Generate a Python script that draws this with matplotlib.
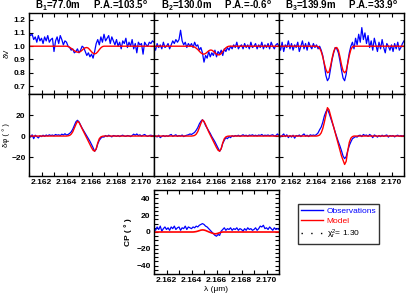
import numpy as np
import matplotlib
matplotlib.use("Agg")
import matplotlib.pyplot as plt
from matplotlib.lines import Line2D
from matplotlib.ticker import MultipleLocator, FixedLocator, FormatStrFormatter

plt.rcParams['font.family'] = ['Liberation Sans', 'DejaVu Sans']
plt.rcParams['mathtext.default'] = 'regular'

# ---------------- data ----------------
wavelength = np.linspace(2.161, 2.171, 81)          # observation grid (micron)
model_wl = np.concatenate(([2.161], np.linspace(2.164, 2.167, 25), [2.171]))

titles = [r"B$_1$=77.0m     P.A.=103.5$^o$",
          r"B$_2$=130.0m     P.A.=-0.6$^o$",
          r"B$_3$=139.9m     P.A.=33.9$^o$"]

dv_obs_1 = [1.10, 1.08, 1.09, 1.05, 1.07, 1.03, 1.08, 1.04,
            1.06, 1.02, 1.07, 1.04, 1.08, 1.03, 1.05, 1.06,
            0.96, 1.04, 1.07, 1.02, 1.08, 1.05, 1.01, 1.04,
            1.03, 1.00, 0.99, 0.97, 0.98, 0.95, 0.96, 0.98,
            0.95, 0.97, 1.00, 0.99, 0.96, 0.93, 0.95, 0.92,
            0.94, 0.91, 0.96, 1.02, 1.05, 1.01, 1.07, 1.03,
            1.09, 1.04, 1.06, 1.08, 1.02, 1.07, 1.04, 1.01,
            1.05, 1.00, 1.03, 0.98, 1.04, 1.02, 1.06, 0.99,
            1.03, 1.00, 1.05, 0.98, 1.02, 0.95, 1.03, 1.01,
            1.02, 0.94, 1.03, 1.01, 1.00, 1.03, 1.02, 1.04,
            1.03]
dv_obs_2 = [1.00, 0.97, 1.02, 0.99, 1.01, 0.98, 1.03, 0.99,
            1.00, 1.02, 0.98, 1.01, 1.04, 1.02, 1.05, 1.03,
            1.05, 1.12, 1.04, 1.01, 1.03, 0.99, 1.02, 1.00,
            1.02, 0.99, 1.03, 1.00, 1.01, 0.97, 0.99, 0.95,
            0.88, 0.93, 0.91, 0.96, 0.92, 0.95, 0.93, 0.97,
            0.92, 0.96, 0.94, 0.97, 0.93, 0.98, 0.96, 0.99,
            0.97, 1.00, 0.98, 1.01, 0.99, 1.03, 0.98, 1.00,
            1.01, 0.98, 1.02, 0.99, 1.01, 0.98, 1.03, 0.99,
            1.00, 1.02, 0.98, 1.01, 0.99, 1.03, 0.98, 1.01,
            0.99, 1.02, 0.98, 1.03, 1.00, 0.98, 1.01, 1.02,
            1.00]
dv_obs_3 = [1.00, 0.97, 1.03, 0.96, 1.01, 0.99, 1.04, 0.98,
            1.02, 0.97, 1.01, 0.99, 1.03, 0.96, 1.00, 1.04,
            0.98, 1.02, 0.97, 1.03, 1.00, 0.98, 1.02, 0.99,
            1.01, 0.98, 1.00, 0.97, 0.93, 0.86, 0.78, 0.74,
            0.76, 0.83, 0.90, 0.95, 0.99, 0.98, 0.95, 0.89,
            0.82, 0.76, 0.74, 0.79, 0.88, 0.95, 1.00, 1.03,
            0.98, 1.06, 1.01, 1.09, 1.03, 1.14, 1.05, 1.10,
            1.02, 1.08, 0.99, 1.04, 0.97, 1.06, 1.01, 0.96,
            1.03, 0.98, 1.05, 0.99, 0.95, 1.02, 1.00, 0.97,
            1.01, 0.96, 1.02, 0.98, 1.03, 0.97, 0.99, 1.02,
            1.04]

dv_mod_1 = [1.0, 1.0, 0.998, 0.992, 0.984, 0.975, 0.966, 0.959, 0.955, 0.955, 0.960,
            0.970, 0.981, 0.988, 0.990, 0.985, 0.972, 0.958, 0.947, 0.942, 0.946,
            0.958, 0.974, 0.988, 0.997, 1.0, 1.0]
dv_mod_2 = [1.0, 1.0, 0.998, 0.993, 0.985, 0.975, 0.962, 0.950, 0.942, 0.940, 0.945,
            0.955, 0.965, 0.971, 0.970, 0.962, 0.950, 0.940, 0.935, 0.935, 0.945,
            0.960, 0.975, 0.988, 0.996, 1.0, 1.0]
dv_mod_3 = [1.0, 1.0, 0.997, 0.985, 0.96, 0.92, 0.87, 0.825, 0.80, 0.805, 0.85,
            0.91, 0.96, 0.988, 0.99, 0.97, 0.92, 0.86, 0.815, 0.80, 0.815,
            0.87, 0.93, 0.975, 0.995, 1.0, 1.0]

dphi_obs_1 = [0.5, -1.0, 1.2, -2.5, 0.8, -0.5, -1.8, 0.3,
              -0.5, 0.8, -0.3, 1.0, 0.2, 1.2, 0.5, 1.0,
              0.3, 1.5, 0.8, 1.2, 0.5, 1.8, 1.0, 2.2,
              1.0, 1.5, 2.5, 4.0, 6.5, 10.0, 13.5, 15.0,
              13.5, 10.5, 7.5, 5.0, 2.5, 0.0, -2.5, -5.0,
              -8.0, -11.0, -14.5, -12.5, -7.5, -4.0, -2.0, -0.8,
              -1.0, 0.5, -0.5, 0.8, 0.0, -0.8, 0.5, 0.2,
              -0.3, 0.5, -0.5, 0.3, 0.8, 0.0, -0.3, 0.5,
              0.2, -0.5, 0.5, 1.8, 0.8, 2.0, 0.5, 1.2,
              0.0, 0.8, 1.5, 0.3, -0.3, 0.5, 0.8, 0.3,
              0.5]
dphi_obs_2 = [0.5, 0.0, -0.8, 0.8, -1.5, -0.3, 0.5, -0.5,
              0.3, -0.3, 0.8, 1.5, -0.2, 0.5, 1.2, -0.3,
              0.5, 0.0, 1.0, -0.5, 0.3, 0.8, 1.2, 2.0,
              1.5, 2.5, 3.5, 5.5, 8.0, 11.5, 14.0, 15.5,
              13.5, 10.0, 7.5, 5.0, 2.5, -0.5, -3.0, -5.5,
              -8.5, -11.5, -14.5, -12.0, -7.0, -4.0, -1.5, -2.5,
              -0.5, -1.5, 0.3, -0.5, 0.5, 0.0, 0.8, -0.3,
              0.5, 1.2, 0.3, 0.8, -0.2, 1.0, 0.5, 1.2,
              0.3, 0.8, 0.2, 1.0, 0.5, 1.5, 0.3, 0.8,
              0.5, 1.0, 0.3, 0.8, 1.2, 0.0, 0.5, 2.0,
              0.5]
dphi_obs_3 = [0.3, -0.8, 0.5, 2.0, -0.5, 1.2, -1.5, 0.5,
              -1.0, 0.8, -2.0, 0.5, 0.0, 1.0, -0.5, 0.8,
              2.0, 0.0, 0.8, -0.5, 1.2, 0.5, 1.0, 0.5,
              1.5, 3.0, 6.0, 8.5, 13.0, 19.0, 23.0, 25.5,
              22.0, 17.5, 13.0, 8.5, 3.5, -1.0, -5.5, -9.5,
              -14.0, -19.0, -21.5, -19.5, -14.0, -9.0, -5.5, -2.5,
              -1.5, -0.5, -1.0, 0.5, 0.8, -0.5, 1.5, 0.5,
              1.0, -0.3, 1.5, 0.5, -1.5, 1.0, 0.3, -1.0,
              0.5, -0.5, 0.8, -0.3, 0.5, 1.0, -1.0, 0.5,
              0.0, 0.5, -0.8, 0.3, 0.8, -0.3, 0.5, 0.0,
              0.5]

dphi_mod_1 = [0, 0, 0.2, 0.6, 1.8, 4.0, 7.5, 11.0, 14.0, 13.0, 10.0, 7.0, 4.0, 1.0,
              -2.0, -5.0, -8.0, -11.0, -13.5, -14.4, -12.0, -6.5, -2.5, -0.8, -0.2, 0, 0]
dphi_mod_2 = [0, 0, 0.2, 0.6, 1.8, 4.2, 8.0, 12.0, 15.4, 14.0, 11.0, 7.5, 4.0, 1.0,
              -2.0, -5.0, -8.0, -11.0, -13.5, -14.4, -12.0, -6.5, -2.5, -0.8, -0.2, 0, 0]
dphi_mod_3 = [0, 0, 0.3, 1.0, 3.0, 7.0, 13.0, 20.0, 27.0, 25.0, 19.5, 14.0, 8.5, 3.0,
              -2.5, -8.0, -13.5, -19.0, -23.0, -27.0, -24.0, -14.0, -6.0, -2.0, -0.5, 0, 0]

cp_obs = [5, 2, 6, 3, 7, 1, 4, 6,
          3, 5, 2, 6, 4, 7, 3, 5,
          6, 2, 5, 4, 7, 3, 6, 5,
          4, 6, 5, 7, 6, 8, 9, 10,
          9, 7, 6, 4, 2, 0, -2, -4,
          -5, -3, -4, 1, 3, 5, 2, 4,
          3, 5, 2, 4, 3, 5, 2, 4,
          3, 1, 4, 2, 5, 3, 4, 2,
          3, 5, 2, 4, 7, 6, 8, 4,
          5, 3, 6, 4, 2, 5, 3, 4,
          3]
cp_mod = [0, 0, 0, 0.2, 0.5, 1.0, 1.6, 2.2, 2.5, 2.3, 1.8, 1.0, 0.2, -0.5,
          -1.2, -1.8, -2.2, -2.0, -1.5, -0.8, -0.3, 0, 0, 0, 0, 0, 0]

dv_ticks = [0.7, 0.8, 0.9, 1.0, 1.1, 1.2]
dphi_ticks = [-20, 0, 20]
cp_ticks = [-40, -20, 0, 20, 40]

chi2_label = r"$\chi_r^2$= 1.30"

dv_obs = [dv_obs_1, dv_obs_2, dv_obs_3]
dv_mod = [dv_mod_1, dv_mod_2, dv_mod_3]
dphi_obs = [dphi_obs_1, dphi_obs_2, dphi_obs_3]
dphi_mod = [dphi_mod_1, dphi_mod_2, dphi_mod_3]

# ---------------- figure ----------------
W, H = 407, 295
fig = plt.figure(figsize=(W / 100, H / 100), dpi=100)

def fx(px):
    return px / W

def fy(py):
    return 1 - py / H

col_left = [29, 154, 279]
col_w = 125
BLUE = '#0000ff'
RED = '#ff0000'
TFS = 6

def style(ax):
    ax.tick_params(which='both', direction='in', top=True, right=True,
                   length=3.2, width=0.8, labelsize=TFS, pad=2.5)
    for s in ax.spines.values():
        s.set_linewidth(1.0)
    ax.xaxis.set_major_locator(MultipleLocator(0.002))
    ax.xaxis.set_minor_locator(MultipleLocator(0.001))
    ax.xaxis.set_major_formatter(FormatStrFormatter('%.3f'))
    ax.set_xlim(2.161, 2.171)

def bold_labels(ax):
    for lab in ax.get_xticklabels() + ax.get_yticklabels():
        lab.set_fontweight('bold')

for i in range(3):
    # top row: differential visibility
    ax = fig.add_axes([fx(col_left[i]), fy(94), col_w / W, 81 / H])
    ax.plot(wavelength, dv_obs[i], color=BLUE, lw=0.9)
    ax.plot(model_wl, dv_mod[i], color=RED, lw=1.0)
    ax.set_ylim(0.64, 1.25)
    ax.yaxis.set_major_locator(FixedLocator(dv_ticks))
    ax.yaxis.set_major_formatter(FormatStrFormatter('%.1f'))
    ax.set_title(titles[i], fontsize=7, fontweight='bold', pad=2)
    style(ax)
    ax.tick_params(labelbottom=False)
    if i == 0:
        ax.set_ylabel("δV", fontsize=5.5, labelpad=2)
    else:
        ax.tick_params(labelleft=False)
    bold_labels(ax)

    # middle row: differential phase
    ax2 = fig.add_axes([fx(col_left[i]), fy(176), col_w / W, 82 / H])
    ax2.plot(wavelength, dphi_obs[i], color=BLUE, lw=0.9)
    ax2.plot(model_wl, dphi_mod[i], color=RED, lw=1.0)
    ax2.set_ylim(-38, 40)
    ax2.yaxis.set_major_locator(FixedLocator(dphi_ticks))
    style(ax2)
    if i == 0:
        ax2.set_ylabel("δφ ( ° )", fontsize=5.5, labelpad=1)
    else:
        ax2.tick_params(labelleft=False)
    bold_labels(ax2)

# closure phase
ax3 = fig.add_axes([fx(154), fy(274), col_w / W, 84 / H])
ax3.plot(wavelength, cp_obs, color=BLUE, lw=0.9)
ax3.plot(model_wl, cp_mod, color=RED, lw=1.2)
ax3.set_ylim(-50, 50)
ax3.yaxis.set_major_locator(FixedLocator(cp_ticks))
ax3.yaxis.set_minor_locator(MultipleLocator(5))
style(ax3)
bold_labels(ax3)
ax3.set_ylabel("CP ( ° )", fontsize=6, fontweight='bold', labelpad=3)
ax3.set_xlabel("λ (μm)", fontsize=6, labelpad=1)

# legend
handles = [Line2D([], [], color=BLUE, lw=1.0),
           Line2D([], [], color=RED, lw=1.0),
           Line2D([], [], color='k', lw=1.0, linestyle=(0, (1, 6)))]
labels = ["Observations", "Model", chi2_label]
leg = fig.legend(handles, labels, loc='upper left',
                 bbox_to_anchor=(fx(298), fy(204)), fontsize=6,
                 frameon=True, fancybox=False, edgecolor='black',
                 handlelength=2.7, handletextpad=0.4, borderpad=0.35,
                 borderaxespad=0, labelspacing=0.3,
                 labelcolor=[BLUE, RED, 'black'])
leg.get_frame().set_linewidth(1.0)

fig.savefig("out.png", dpi=100)
